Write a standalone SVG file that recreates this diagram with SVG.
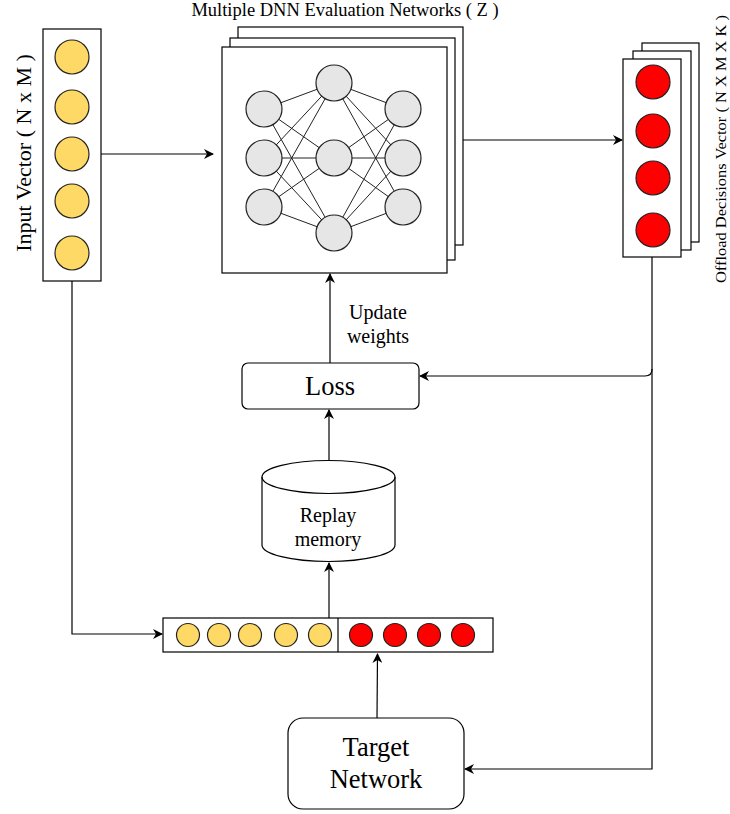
<svg xmlns="http://www.w3.org/2000/svg" width="730" height="814" viewBox="0 0 730 814">
  <defs>
    <style>
      .box { fill: #fff; stroke: #000; stroke-width: 1.2; }
      .yel { fill: #FFD966; stroke: #222; stroke-width: 1.2; }
      .red { fill: #FF0000; stroke: #222; stroke-width: 1.2; }
      .gry { fill: #E6E6E6; stroke: #222; stroke-width: 1.2; }
      .edge { fill: none; stroke: #000; stroke-width: 1.2; }
      .wire { stroke: #222; stroke-width: 1; }
      .lbl { font-family: "Liberation Serif", "Times New Roman", serif; fill: #000; }
    </style>
    <marker id="arrow" viewBox="0 0 10 10" refX="9" refY="5" markerWidth="10" markerHeight="10" markerUnits="userSpaceOnUse" orient="auto">
      <path d="M0,0 L10,5 L0,10 L3,5 Z" fill="#000"/>
    </marker>
  </defs>
  <rect width="730" height="814" fill="#fff"/>

  <!-- connectors -->
  <g id="connectors">
    <path class="edge" d="M101,154 H213" marker-end="url(#arrow)"/>
    <path class="edge" d="M463,140 H622" marker-end="url(#arrow)"/>
    <path class="edge" d="M72,281 V634 H162" marker-end="url(#arrow)"/>
    <path class="edge" d="M330,363 V274" marker-end="url(#arrow)"/>
    <path class="edge" d="M329,460 V410" marker-end="url(#arrow)"/>
    <path class="edge" d="M329,618 V563" marker-end="url(#arrow)"/>
    <path class="edge" d="M377,718 L377.5,654" marker-end="url(#arrow)"/>
    <path class="edge" d="M652,257 V369 Q652,376 645,376 H420" marker-end="url(#arrow)"/>
    <path class="edge" d="M652,369 V769 H465" marker-end="url(#arrow)"/>
  </g>

  <!-- input vector -->
  <g id="input-vector">
    <rect class="box" x="43" y="29" width="58" height="252"/>
    <circle class="yel" cx="72" cy="57" r="17"/>
    <circle class="yel" cx="72" cy="107" r="17"/>
    <circle class="yel" cx="72" cy="154" r="17"/>
    <circle class="yel" cx="72" cy="201" r="17"/>
    <circle class="yel" cx="72" cy="253" r="17"/>
    <text class="lbl" font-size="22" text-anchor="middle" transform="translate(31,153) rotate(-90)">Input Vector ( N x M )</text>
  </g>

  <!-- stacked evaluation networks -->
  <g id="dnn-networks">
    <text class="lbl" font-size="18.5" x="345" y="16" text-anchor="middle">Multiple DNN Evaluation Networks ( Z )</text>
    <rect class="box" x="238" y="27" width="225" height="218"/>
    <rect class="box" x="230" y="38" width="225" height="222"/>
    <rect class="box" x="222" y="47" width="225" height="226"/>
    <g class="wire">
      <!-- input layer to hidden layer -->
      <line x1="264" y1="109" x2="334" y2="83"/>
      <line x1="264" y1="109" x2="334" y2="158"/>
      <line x1="264" y1="109" x2="334" y2="233"/>
      <line x1="264" y1="158" x2="334" y2="83"/>
      <line x1="264" y1="158" x2="334" y2="158"/>
      <line x1="264" y1="158" x2="334" y2="233"/>
      <line x1="264" y1="207" x2="334" y2="83"/>
      <line x1="264" y1="207" x2="334" y2="158"/>
      <line x1="264" y1="207" x2="334" y2="233"/>
      <!-- hidden layer to output layer -->
      <line x1="334" y1="83" x2="403" y2="109"/>
      <line x1="334" y1="83" x2="403" y2="158"/>
      <line x1="334" y1="83" x2="403" y2="207"/>
      <line x1="334" y1="158" x2="403" y2="109"/>
      <line x1="334" y1="158" x2="403" y2="158"/>
      <line x1="334" y1="158" x2="403" y2="207"/>
      <line x1="334" y1="233" x2="403" y2="109"/>
      <line x1="334" y1="233" x2="403" y2="158"/>
      <line x1="334" y1="233" x2="403" y2="207"/>
    </g>
    <circle class="gry" cx="264" cy="109" r="18"/>
    <circle class="gry" cx="264" cy="158" r="18"/>
    <circle class="gry" cx="264" cy="207" r="18"/>
    <circle class="gry" cx="334" cy="83" r="18"/>
    <circle class="gry" cx="334" cy="158" r="18"/>
    <circle class="gry" cx="334" cy="233" r="18"/>
    <circle class="gry" cx="403" cy="109" r="18"/>
    <circle class="gry" cx="403" cy="158" r="18"/>
    <circle class="gry" cx="403" cy="207" r="18"/>
  </g>

  <!-- offload decisions vector -->
  <g id="offload-vector">
    <rect class="box" x="642" y="43" width="57" height="199"/>
    <rect class="box" x="633" y="51" width="58" height="199"/>
    <rect class="box" x="623" y="59" width="58" height="198"/>
    <circle class="red" cx="653" cy="82" r="17"/>
    <circle class="red" cx="653" cy="131" r="17"/>
    <circle class="red" cx="653" cy="178" r="17"/>
    <circle class="red" cx="653" cy="230" r="17"/>
    <text class="lbl" font-size="14.5" text-anchor="middle" textLength="268" lengthAdjust="spacingAndGlyphs" transform="translate(726,149) rotate(-90)">Offload Decisions Vector ( N X M X K )</text>
  </g>

  <!-- update label -->
  <g id="update-label">
    <text class="lbl" font-size="20" x="378" y="319" text-anchor="middle">Update</text>
    <text class="lbl" font-size="20" x="378" y="343" text-anchor="middle">weights</text>
  </g>

  <!-- loss -->
  <g id="loss">
    <rect class="box" x="242" y="363" width="177" height="46" rx="6"/>
    <text class="lbl" font-size="26.5" x="330" y="395" text-anchor="middle">Loss</text>
  </g>

  <!-- replay memory -->
  <g id="replay-memory">
    <path class="box" d="M262,477 A66.5,16.5 0 0 1 395,477 V545 A66.5,16.5 0 0 1 262,545 Z"/>
    <path class="edge" d="M262,477 A66.5,16.5 0 0 0 395,477"/>
    <text class="lbl" font-size="20" x="328" y="522" text-anchor="middle">Replay</text>
    <text class="lbl" font-size="20" x="328" y="546" text-anchor="middle">memory</text>
  </g>

  <!-- experience tuple -->
  <g id="experience">
    <rect class="box" x="163" y="618" width="330" height="34"/>
    <line class="edge" x1="338" y1="618" x2="338" y2="652"/>
    <circle class="yel" cx="188" cy="635" r="11.5"/>
    <circle class="yel" cx="219" cy="635" r="11.5"/>
    <circle class="yel" cx="250" cy="635" r="11.5"/>
    <circle class="yel" cx="286" cy="635" r="11.5"/>
    <circle class="yel" cx="320" cy="635" r="11.5"/>
    <circle class="red" cx="361" cy="635" r="11.5"/>
    <circle class="red" cx="395" cy="635" r="11.5"/>
    <circle class="red" cx="429" cy="635" r="11.5"/>
    <circle class="red" cx="463" cy="635" r="11.5"/>
  </g>

  <!-- target network -->
  <g id="target-network">
    <rect class="box" x="288" y="718" width="176" height="91" rx="15"/>
    <text class="lbl" font-size="26.5" x="376" y="756" text-anchor="middle">Target</text>
    <text class="lbl" font-size="26.5" x="376" y="788" text-anchor="middle">Network</text>
  </g>
</svg>
